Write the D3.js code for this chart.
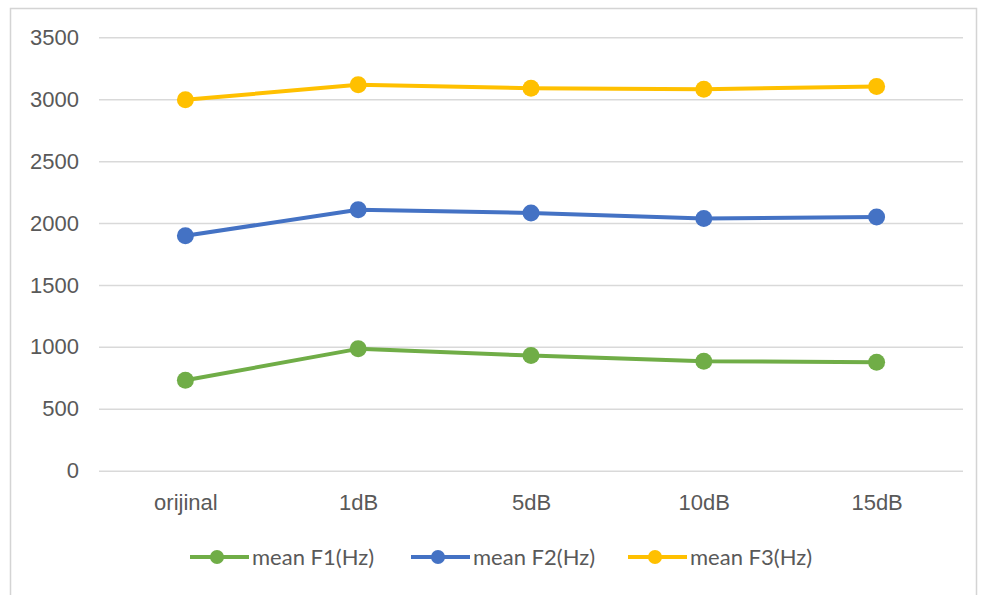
<!DOCTYPE html>
<html>
<head>
<meta charset="utf-8">
<script src="https://cdn.jsdelivr.net/npm/d3@7"></script>
<style>
  html, body { margin: 0; padding: 0; background: #fff; }
  svg { display: block; font-family: Lato, "Open Sans", sans-serif; }
</style>
</head>
<body>
<svg id="chart" width="982" height="595"></svg>
<script>
// Conditions along the x axis
const categories = ["orijinal", "1dB", "5dB", "10dB", "15dB"];
// Mean formant frequencies (Hz) per condition
const meanF1 = [730, 984, 930, 884, 876];
const meanF2 = [1897, 2108, 2081, 2037, 2049];
const meanF3 = [2996, 3116, 3089, 3081, 3102];
const seriesNames = ["mean F1(Hz)", "mean F2(Hz)", "mean F3(Hz)"];
const yTicks = [0, 500, 1000, 1500, 2000, 2500, 3000, 3500];

const colors = ["#70AD47", "#4472C4", "#FFC000"];
const series = [meanF1, meanF2, meanF3].map((values, i) => ({
  name: seriesNames[i], color: colors[i], values
}));

const svg = d3.select("#chart");
const plot = { left: 99, right: 963, top: 37.3, bottom: 470.7 };

// Outer frame of the chart area
svg.append("path")
  .attr("d", "M10.5,600 V8.5 H976.5 V600")
  .attr("fill", "none")
  .attr("stroke", "#d4d4d4")
  .attr("stroke-width", 1.5);

const x = d3.scalePoint().domain(categories)
  .range([plot.left, plot.right]).padding(0.5);
const y = d3.scaleLinear().domain([0, 3500])
  .range([plot.bottom, plot.top]);

// Horizontal gridlines + value labels
const yAxis = d3.axisLeft(y).tickValues(yTicks)
  .tickSize(-(plot.right - plot.left)).tickPadding(20).tickFormat(d3.format("d"));
const gy = svg.append("g").attr("transform", `translate(${plot.left},0)`).call(yAxis);
gy.select(".domain").remove();
gy.selectAll(".tick line").attr("stroke", "#d9d9d9").attr("stroke-width", 1.5);
gy.selectAll(".tick text").attr("fill", "#595959").style("font-size", "22px");

// Category labels
const xAxis = d3.axisBottom(x).tickSize(0).tickPadding(24);
const gx = svg.append("g").attr("transform", `translate(0,${plot.bottom})`).call(xAxis);
gx.select(".domain").remove();
gx.selectAll(".tick text").attr("fill", "#595959").style("font-size", "22px");

// Lines and markers
const line = d3.line().x((d, i) => x(categories[i])).y(d => y(d));
series.forEach(s => {
  svg.append("path")
    .datum(s.values)
    .attr("d", line)
    .attr("fill", "none")
    .attr("stroke", s.color)
    .attr("stroke-width", 4)
    .attr("stroke-linejoin", "round");
  svg.append("g").selectAll("circle")
    .data(s.values)
    .join("circle")
    .attr("cx", (d, i) => x(categories[i]))
    .attr("cy", d => y(d))
    .attr("r", 8.5)
    .attr("fill", s.color);
});

// Legend
const legendY = 557;
const legendX = [190, 411, 628];
const leg = svg.append("g").selectAll("g").data(series).join("g")
  .attr("transform", (d, i) => `translate(${legendX[i]},${legendY})`);
leg.append("line").attr("x1", 0).attr("x2", 59).attr("y1", 0).attr("y2", 0)
  .attr("stroke", d => d.color).attr("stroke-width", 4);
leg.append("circle").attr("cx", 27).attr("cy", 0).attr("r", 7).attr("fill", d => d.color);
leg.append("text").attr("x", 62).attr("y", 0).attr("dy", "0.35em")
  .attr("fill", "#595959").style("font-size", "22px").text(d => d.name);
</script>
</body>
</html>
